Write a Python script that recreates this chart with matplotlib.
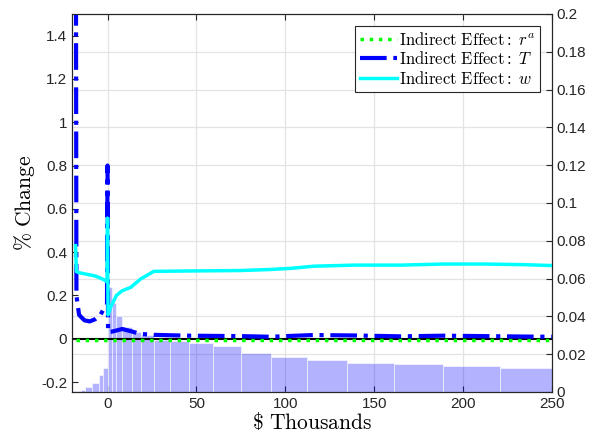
import matplotlib.pyplot as plt
import numpy as np
from matplotlib.ticker import FormatStrFormatter

plt.rcParams['font.family'] = ['Liberation Sans', 'DejaVu Sans']
plt.rcParams['mathtext.fontset'] = 'cm'

# histogram (right axis): bin edges in $ thousands and bar heights
bin_edges = [-20, -15.2, -12.4, -8.6, -4.9, -2.4, 0, 2.6, 4.5, 8.3, 13.9, 18.6, 26, 35,
             46, 59.5, 75, 92, 112, 135, 161, 189, 221, 255]
bin_heights = [0.0005, 0.001, 0.0025, 0.005, 0.009, 0.0127, 0.0557, 0.047, 0.040, 0.0345,
               0.032, 0.030, 0.0275, 0.027, 0.026, 0.0245, 0.0205, 0.0183, 0.0169,
               0.0155, 0.0146, 0.0138, 0.0129]

# indirect effects (left axis)
x_line = [-18, -17.5, -16, -13, -10, -7, -4, -2, -0.3, 0, 0.3, 2, 5, 8.3, 13, 18.6, 26,
          35, 46, 60, 75, 92, 103, 116, 139, 165, 189, 212, 235, 250]
eff_T = [3.0, 0.2, 0.11, 0.085, 0.08, 0.09, 0.11, 0.14, 0.155, 0.8, 0.03, 0.032, 0.038,
         0.045, 0.035, 0.022, 0.018, 0.016, 0.014, 0.013, 0.012, 0.009, 0.013, 0.017,
         0.015, 0.011, 0.014, 0.012, 0.010, 0.009]
eff_w = [0.43, 0.31, 0.305, 0.30, 0.295, 0.29, 0.28, 0.272, 0.262, 0.557, 0.11, 0.15,
         0.20, 0.222, 0.237, 0.276, 0.311, 0.312, 0.313, 0.314, 0.315, 0.32, 0.325,
         0.335, 0.34, 0.34, 0.345, 0.345, 0.342, 0.338]
eff_ra = [-0.004] * len(x_line)

fig = plt.figure(figsize=(5.91, 4.37), dpi=100)
ax = fig.add_axes([0.1218, 0.103, 0.812, 0.865])

# histogram on the base axes, y axis on the right
widths = np.diff(bin_edges)
ax.bar(bin_edges[:-1], bin_heights, width=widths, align='edge',
       color=(0.0, 0.0, 1.0, 0.3), edgecolor='white', linewidth=0.4)
ax.set_ylim(0, 0.2)
ax.set_yticks(np.arange(0, 0.201, 0.02))
ax.yaxis.set_major_formatter(FormatStrFormatter('%g'))
ax.set_xlim(-20, 250)
ax.set_xticks([0, 50, 100, 150, 200, 250])
ax.set_axisbelow(True)
ax.grid(True, color='#e3e3e3', linewidth=0.9)
ax.set_xlabel(r'$\mathrm{\$\ Thousands}$', fontsize=15.5, labelpad=1)

# lines on the twin, y axis on the left
ax2 = ax.twinx()
ax.yaxis.tick_right()
ax2.yaxis.tick_left()
ax2.yaxis.set_label_position('left')
ax.tick_params(direction='in', labelsize=11, top=True, colors='#262626', length=4)
ax2.axhline(0, color='black', linewidth=1.5, zorder=1)
ax2.plot(x_line, eff_ra, color=(0, 1, 0), linestyle=':', linewidth=2.5,
         label=r'$\mathrm{Indirect\ Effect:}\ r^a$')
ax2.plot(x_line, eff_T, color=(0, 0, 1), linestyle='-.', linewidth=3,
         label=r'$\mathrm{Indirect\ Effect:}\ T$')
ax2.plot(x_line, eff_w, color=(0, 1, 1), linestyle='-', linewidth=2.5,
         label=r'$\mathrm{Indirect\ Effect:}\ w$')
ax2.set_ylim(-0.246, 1.5)
ax2.set_yticks(np.arange(-0.2, 1.41, 0.2))
ax2.yaxis.set_major_formatter(FormatStrFormatter('%g'))
ax2.tick_params(direction='in', labelsize=11, colors='#262626', length=4)
ax2.set_ylabel(r'$\mathrm{\%\ Change}$', fontsize=15.5, labelpad=3)

for a in (ax, ax2):
    for s in a.spines.values():
        s.set_color('#262626')
        s.set_linewidth(0.8)

leg = ax2.legend(loc='upper right', fontsize=12, fancybox=False, framealpha=1,
                 edgecolor='#262626', handlelength=2.2, handletextpad=0.1,
                 borderpad=0.3, labelspacing=0.15, borderaxespad=0.7)
leg.get_frame().set_linewidth(0.8)

fig.savefig('out.png', dpi=100)
